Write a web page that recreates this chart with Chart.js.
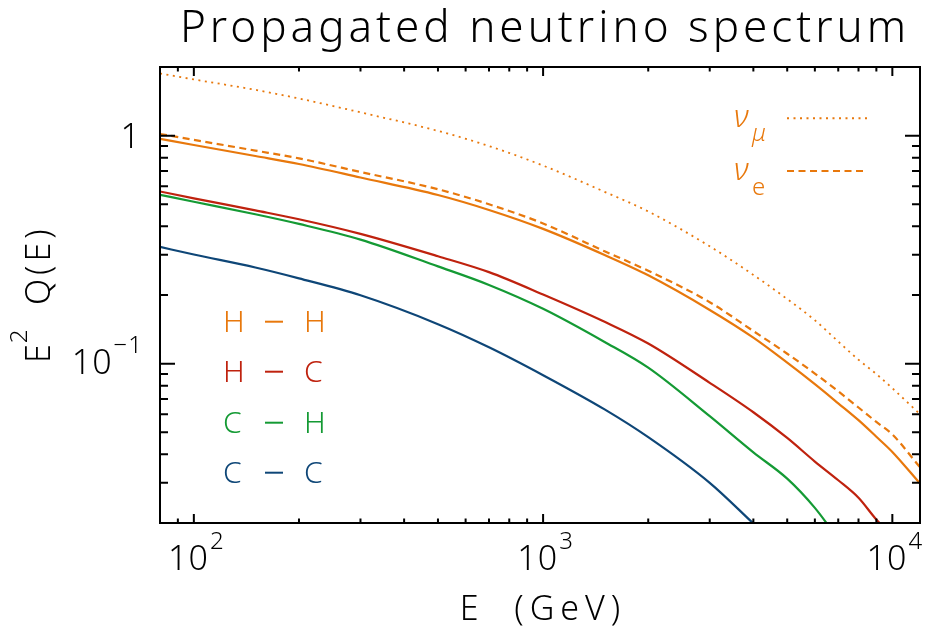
<!DOCTYPE html>
<html lang="en">

<head>
    <meta charset="UTF-8">
    <title>Propagated neutrino spectrum</title>
    <script src="https://cdnjs.cloudflare.com/ajax/libs/Chart.js/4.4.1/chart.umd.min.js"></script>
    <style>
        body { margin: 0; background: #fff; }
        canvas { display: block; }
    </style>
</head>

<body>
    <canvas id="spectrumChart" width="925" height="632"></canvas>

    <script>
        // energy grid (GeV)
        const energy = [80, 100, 150, 200, 300, 500, 700, 1000, 1500, 2000, 3000, 4000, 5000, 6000, 7000, 8000, 9000, 10000, 12000];

        // E^2 Q(E)
        const nuMu = [1.874, 1.764, 1.588, 1.455, 1.265, 1.049, 0.900, 0.739, 0.567, 0.465, 0.327, 0.245, 0.192, 0.155, 0.125, 0.104, 0.090, 0.078, 0.060];
        const nuE = [1.017, 0.958, 0.860, 0.795, 0.693, 0.582, 0.500, 0.412, 0.311, 0.2555, 0.186, 0.139, 0.1105, 0.0905, 0.0756, 0.0642, 0.0555, 0.0489, 0.0351];
        const hh = [0.967, 0.910, 0.814, 0.751, 0.655, 0.549, 0.472, 0.390, 0.2996, 0.244, 0.172, 0.130, 0.101, 0.0813, 0.067, 0.0565, 0.0478, 0.0410, 0.0298];
        const hc = [0.569, 0.531, 0.470, 0.430, 0.371, 0.296, 0.252, 0.201, 0.1526, 0.1225, 0.0824, 0.0612, 0.0472, 0.0372, 0.0308, 0.0258, 0.0207, 0.0175, null];
        const ch = [0.550, 0.513, 0.452, 0.410, 0.350, 0.267, 0.2214, 0.174, 0.1245, 0.096, 0.0588, 0.0408, 0.0313, 0.0233, 0.017, null, null, null, null];
        const cc = [0.325, 0.301, 0.264, 0.2366, 0.1994, 0.149, 0.118, 0.089, 0.063, 0.0476, 0.0300, 0.0199, null, null, null, null, null, null, null];

        const xMajor = [100, 1000, 10000];
        const xMinor = [90, 200, 300, 400, 500, 600, 700, 800, 900, 2000, 3000, 4000, 5000, 6000, 7000, 8000, 9000];
        const yMajor = [0.1, 1];
        const yMinor = [0.03, 0.04, 0.05, 0.06, 0.07, 0.08, 0.09, 0.2, 0.3, 0.4, 0.5, 0.6, 0.7, 0.8, 0.9];
        const xTickLabels = [['10', '2'], ['10', '3'], ['10', '4']];
        const legendRows = [['H', 'H'], ['H', 'C'], ['C', 'H'], ['C', 'C']];

        const ORANGE = '#e8780c';
        const RED = '#bf220e';
        const GREEN = '#149a34';
        const BLUE = '#0e4677';
        const FONT = '"Noto Sans", "DejaVu Sans", sans-serif';

        function toPoints(values) {
            return energy.map((e, i) => ({ x: e, y: values[i] }));
        }

        function series(values, color, dash, width) {
            return {
                data: toPoints(values),
                borderColor: color,
                borderWidth: width || 2.2,
                borderDash: dash || [],
                pointRadius: 0,
                cubicInterpolationMode: 'monotone',
                spanGaps: false
            };
        }

        // text with a raised small part
        function drawSup(ctx, base, sup, x, y, baseSize, supSize, rise, align) {
            ctx.font = '300 ' + baseSize + 'px ' + FONT;
            const wb = ctx.measureText(base).width;
            ctx.font = '300 ' + supSize + 'px ' + FONT;
            const ws = ctx.measureText(sup).width;
            let x0 = x;
            if (align === 'center') x0 = x - (wb + ws) / 2;
            if (align === 'right') x0 = x - (wb + ws);
            ctx.textAlign = 'left';
            ctx.textBaseline = 'alphabetic';
            ctx.font = '300 ' + baseSize + 'px ' + FONT;
            ctx.fillText(base, x0, y);
            ctx.font = '300 ' + supSize + 'px ' + FONT;
            ctx.fillText(sup, x0 + wb + 1, y - rise);
        }

        const framePlugin = {
            id: 'frame',
            afterDatasetsDraw(chart) {
                const ctx = chart.ctx;
                const area = chart.chartArea;
                const xs = chart.scales.x;
                const ys = chart.scales.y;
                ctx.save();
                ctx.strokeStyle = '#000';
                ctx.fillStyle = '#000';
                ctx.lineWidth = 2;
                ctx.strokeRect(area.left, area.top, area.right - area.left, area.bottom - area.top);

                ctx.beginPath();
                const xTick = (v, len) => {
                    const px = xs.getPixelForValue(v);
                    ctx.moveTo(px, area.bottom); ctx.lineTo(px, area.bottom - len);
                    ctx.moveTo(px, area.top); ctx.lineTo(px, area.top + len);
                };
                const yTick = (v, len) => {
                    const py = ys.getPixelForValue(v);
                    ctx.moveTo(area.left, py); ctx.lineTo(area.left + len, py);
                    ctx.moveTo(area.right, py); ctx.lineTo(area.right - len, py);
                };
                xMajor.forEach(v => xTick(v, 9));
                xMinor.forEach(v => xTick(v, 4.5));
                yMajor.forEach(v => yTick(v, 15));
                yMinor.forEach(v => yTick(v, 8));
                ctx.stroke();

                // tick labels
                ctx.letterSpacing = '1px';
                xMajor.forEach((v, i) => {
                    drawSup(ctx, xTickLabels[i][0], xTickLabels[i][1], xs.getPixelForValue(v) + 2, 570, 34, 24, 21, 'center');
                });
                ctx.font = '300 34px ' + FONT;
                ctx.textAlign = 'right';
                ctx.fillText('1', 141, ys.getPixelForValue(1) + 12);
                drawSup(ctx, '10', '\u22121', 142, ys.getPixelForValue(0.1) + 10, 34, 24, 21, 'right');

                // axis titles
                ctx.letterSpacing = '6px';
                ctx.font = '300 34px ' + FONT;
                ctx.textAlign = 'center';
                ctx.fillText('E  (GeV)', (area.left + area.right) / 2 + 3, 620);

                ctx.save();
                ctx.translate(50, 363);
                ctx.rotate(-Math.PI / 2);
                ctx.letterSpacing = '0px';
                drawSup(ctx, 'E', '2', 0, 0, 34, 24, 23, 'left');
                ctx.letterSpacing = '4px';
                ctx.font = '300 34px ' + FONT;
                ctx.textAlign = 'left';
                ctx.fillText('Q(E)', 58, 0);
                ctx.restore();

                // title
                ctx.letterSpacing = '4px';
                ctx.font = '300 44px ' + FONT;
                ctx.textAlign = 'center';
                ctx.fillText('Propagated neutrino spectrum', 545, 42);
                ctx.letterSpacing = '0px';

                // reaction legend
                const rowColors = [ORANGE, RED, GREEN, BLUE];
                const rowY = [321.7, 371.7, 422.7, 472.7];
                legendRows.forEach((r, i) => {
                    ctx.fillStyle = rowColors[i];
                    ctx.strokeStyle = rowColors[i];
                    ctx.font = '300 30px ' + FONT;
                    ctx.textAlign = 'left';
                    ctx.fillText(r[0], 223, rowY[i] + 10.5);
                    ctx.fillText(r[1], 304, rowY[i] + 10.5);
                    ctx.lineWidth = 2;
                    ctx.beginPath();
                    ctx.moveTo(265, rowY[i]);
                    ctx.lineTo(283, rowY[i]);
                    ctx.stroke();
                });

                // flavour legend
                ctx.fillStyle = ORANGE;
                ctx.strokeStyle = ORANGE;
                ctx.font = 'italic 300 32px ' + FONT;
                ctx.fillText('\u03bd', 734, 127);
                ctx.fillText('\u03bd', 734, 180);
                ctx.font = 'italic 300 24px ' + FONT;
                ctx.fillText('\u03bc', 752, 141);
                ctx.font = '300 24px ' + FONT;
                ctx.fillText('e', 752, 195);
                ctx.lineWidth = 2;
                ctx.setLineDash([2, 4.5]);
                ctx.beginPath(); ctx.moveTo(787, 118.3); ctx.lineTo(867, 118.3); ctx.stroke();
                ctx.setLineDash([7, 4.5]);
                ctx.beginPath(); ctx.moveTo(787, 171); ctx.lineTo(867, 171); ctx.stroke();
                ctx.restore();
            }
        };

        const ctx = document.getElementById('spectrumChart').getContext('2d');
        const chart = new Chart(ctx, {
            type: 'line',
            data: {
                datasets: [
                    series(nuMu, ORANGE, [2, 4.5], 1.8),
                    series(nuE, ORANGE, [7, 4.5]),
                    series(hh, ORANGE),
                    series(hc, RED),
                    series(ch, GREEN),
                    series(cc, BLUE)
                ]
            },
            options: {
                responsive: false,
                animation: false,
                layout: { padding: { left: 160, right: 5, top: 67, bottom: 109 } },
                plugins: {
                    legend: { display: false },
                    tooltip: { enabled: false }
                },
                scales: {
                    x: { type: 'logarithmic', min: 80, max: 12000, display: false },
                    y: { type: 'logarithmic', min: 0.02, max: 2, display: false }
                }
            },
            plugins: [framePlugin]
        });
    </script>
</body>

</html>
